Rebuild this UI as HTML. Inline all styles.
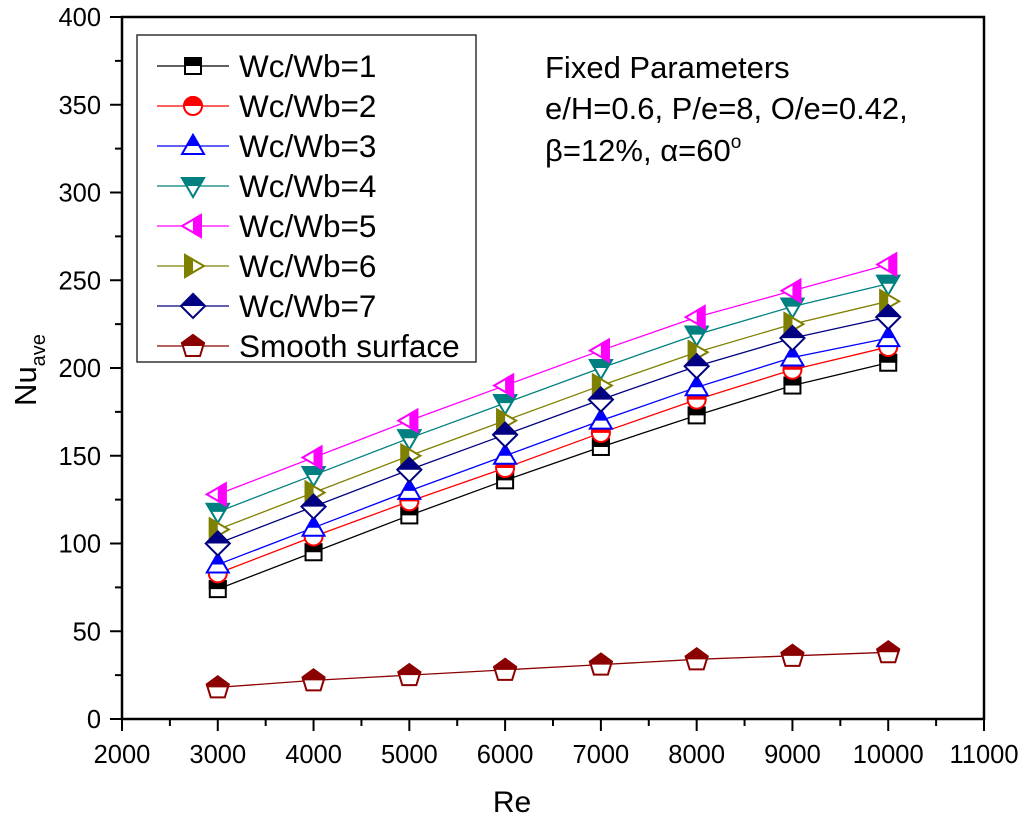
<!DOCTYPE html>
<html><head><meta charset="utf-8"><style>
html,body{margin:0;padding:0;background:#fff;}
svg{display:block;font-family:"Liberation Sans",Arial,sans-serif;}
</style></head><body>
<svg id="chart" width="1024" height="829" viewBox="0 0 1024 829" xmlns="http://www.w3.org/2000/svg">
<defs>
<clipPath id="cTop" clipPathUnits="userSpaceOnUse"><rect x="-20" y="-20" width="40" height="20"/></clipPath>
<clipPath id="cRight" clipPathUnits="userSpaceOnUse"><rect x="0" y="-20" width="20" height="40"/></clipPath>
<clipPath id="cLeft" clipPathUnits="userSpaceOnUse"><rect x="-20" y="-20" width="20" height="40"/></clipPath>
</defs>
<g id="plot"></g>
</svg>
<script>
const reValues = [3000,4000,5000,6000,7000,8000,9000,10000];
const seriesNames = ["Wc/Wb=1","Wc/Wb=2","Wc/Wb=3","Wc/Wb=4","Wc/Wb=5","Wc/Wb=6","Wc/Wb=7","Smooth surface"];
const s1 = [74,95,116,136,155,173,190,203];
const s2 = [83,104,124,143,163,182,199,212];
const s3 = [88,109,130,150,170,189,206,217];
const s4 = [118,139,160,180,200,219,235,248];
const s5 = [128,149,170,190,210,229,244,259];
const s6 = [108,129,150,170,190,209,225,238];
const s7 = [100,121,142,162,182,201,217,229];
const sSmooth = [18,22,25,28,31,34,36,38];
const xTicks = [2000,3000,4000,5000,6000,7000,8000,9000,10000,11000];
const yTicks = [0,50,100,150,200,250,300,350,400];

const X0=122,X1=984,Y0=719,Y1=17;
const xS=v=>X0+(v-2000)/9000*(X1-X0);
const yS=v=>Y0-(v)/400*(Y0-Y1);
const NS="http://www.w3.org/2000/svg";
const svg=document.getElementById('plot');
function mk(tag,attrs,parent){const e=document.createElementNS(NS,tag);for(const k in attrs)e.setAttribute(k,attrs[k]);(parent||svg).appendChild(e);return e;}

const styles=[
 {data:s1,color:"#000000",shape:"square",clip:"cTop"},
 {data:s2,color:"#ff0000",shape:"circle",clip:"cTop"},
 {data:s3,color:"#0000ff",shape:"up",clip:"cTop"},
 {data:s4,color:"#008080",shape:"down",clip:"cTop"},
 {data:s5,color:"#ff00ff",shape:"left",clip:"cRight"},
 {data:s6,color:"#808000",shape:"right",clip:"cLeft"},
 {data:s7,color:"#000080",shape:"diamond",clip:"cTop"},
 {data:sSmooth,color:"#8b0000",shape:"pent",clip:"cTop"}
];
function shapeEl(shape,attrs,parent){
 const r=9;
 if(shape==="square") return mk('rect',Object.assign({x:-r+1,y:-r+1,width:2*r-2,height:2*r-2},attrs),parent);
 if(shape==="circle") return mk('circle',Object.assign({cx:0,cy:0,r:r},attrs),parent);
 let pts;
 if(shape==="up") pts="0,-11 11,8 -11,8";
 else if(shape==="down") pts="-11,-8 11,-8 0,11";
 else if(shape==="left") pts="-11,0 8,-11 8,11";
 else if(shape==="right") pts="11,0 -8,-11 -8,11";
 else if(shape==="diamond") pts="0,-12 12,0 0,12 -12,0";
 else pts="0,-11 11,-3 7,10 -7,10 -11,-3";
 return mk('polygon',Object.assign({points:pts},attrs),parent);
}
function marker(st,x,y,parent,name){
 const g=mk('g',{transform:`translate(${x},${y})`},parent);
 
 
 shapeEl(st.shape,{fill:"#fff",stroke:st.color,"stroke-width":2},g);
 shapeEl(st.shape,{fill:st.color,stroke:st.color,"stroke-width":2,"clip-path":`url(#${st.clip})`},g);
}

const frame=mk('rect',{x:X0,y:Y1,width:X1-X0,height:Y0-Y1,fill:"none",stroke:"#000","stroke-width":2.5});


for(let v=2000;v<=11000;v+=500){
 const major=v%1000===0;
 const t=mk('line',{x1:xS(v),x2:xS(v),y1:Y0,y2:Y0+(major?12:7),stroke:"#000","stroke-width":2});
 
 
}
xTicks.forEach(v=>{
 const t=mk('text',{x:xS(v),y:763,"text-anchor":"middle","font-size":25.5,fill:"#000"});
 t.textContent=v;
 
 
});
for(let v=0;v<=400;v+=25){
 const major=v%50===0;
 const t=mk('line',{x1:X0-(major?12:7),x2:X0,y1:yS(v),y2:yS(v),stroke:"#000","stroke-width":2});
 
 
}
yTicks.forEach(v=>{
 const t=mk('text',{x:101,y:yS(v)+9,"text-anchor":"end","font-size":25.5,fill:"#000"});
 t.textContent=v;
 
 
});
const xt=mk('text',{x:512,y:812,"text-anchor":"middle","font-size":30,fill:"#000"});
xt.textContent="Re";


const yt=mk('text',{transform:"translate(36,370) rotate(-90)","text-anchor":"middle","font-size":31,fill:"#000"});
yt.innerHTML='Nu<tspan font-size="20" dy="9">ave</tspan>';



styles.forEach((st,i)=>{
 const g=mk('g',{});
 
 
 const pts=st.data.map((v,j)=>xS(reValues[j])+","+yS(v)).join(" ");
 const l=mk('polyline',{points:pts,fill:"none",stroke:st.color,"stroke-width":1.3},g);
 
 
 st.data.forEach((v,j)=>marker(st,xS(reValues[j]),yS(v),g,'data-point'));
});

const lg=mk('g',{});


const lb=mk('rect',{x:137,y:35,width:339,height:327,fill:"#fff",stroke:"#333","stroke-width":1.5},lg);


styles.forEach((st,i)=>{
 const y=66+i*40;
 const e=mk('g',{},lg);
 
 
 mk('line',{x1:157,x2:229,y1:y,y2:y,stroke:st.color,"stroke-width":1.3},e);
 marker(st,193,y,e,'legend-marker');
 const t=mk('text',{x:239,y:y+11,"font-size":31.5,fill:"#000"},e);
 t.textContent=seriesNames[i];
});

const an=mk('text',{x:545,y:78,"font-size":31,fill:"#000"});


an.innerHTML='<tspan x="545">Fixed Parameters</tspan><tspan x="545" dy="41">e/H=0.6, P/e=8, O/e=0.42,</tspan><tspan x="545" dy="42">β=12%, α=60</tspan><tspan font-size="19" dy="-13">o</tspan>';
</script>
</body></html>
